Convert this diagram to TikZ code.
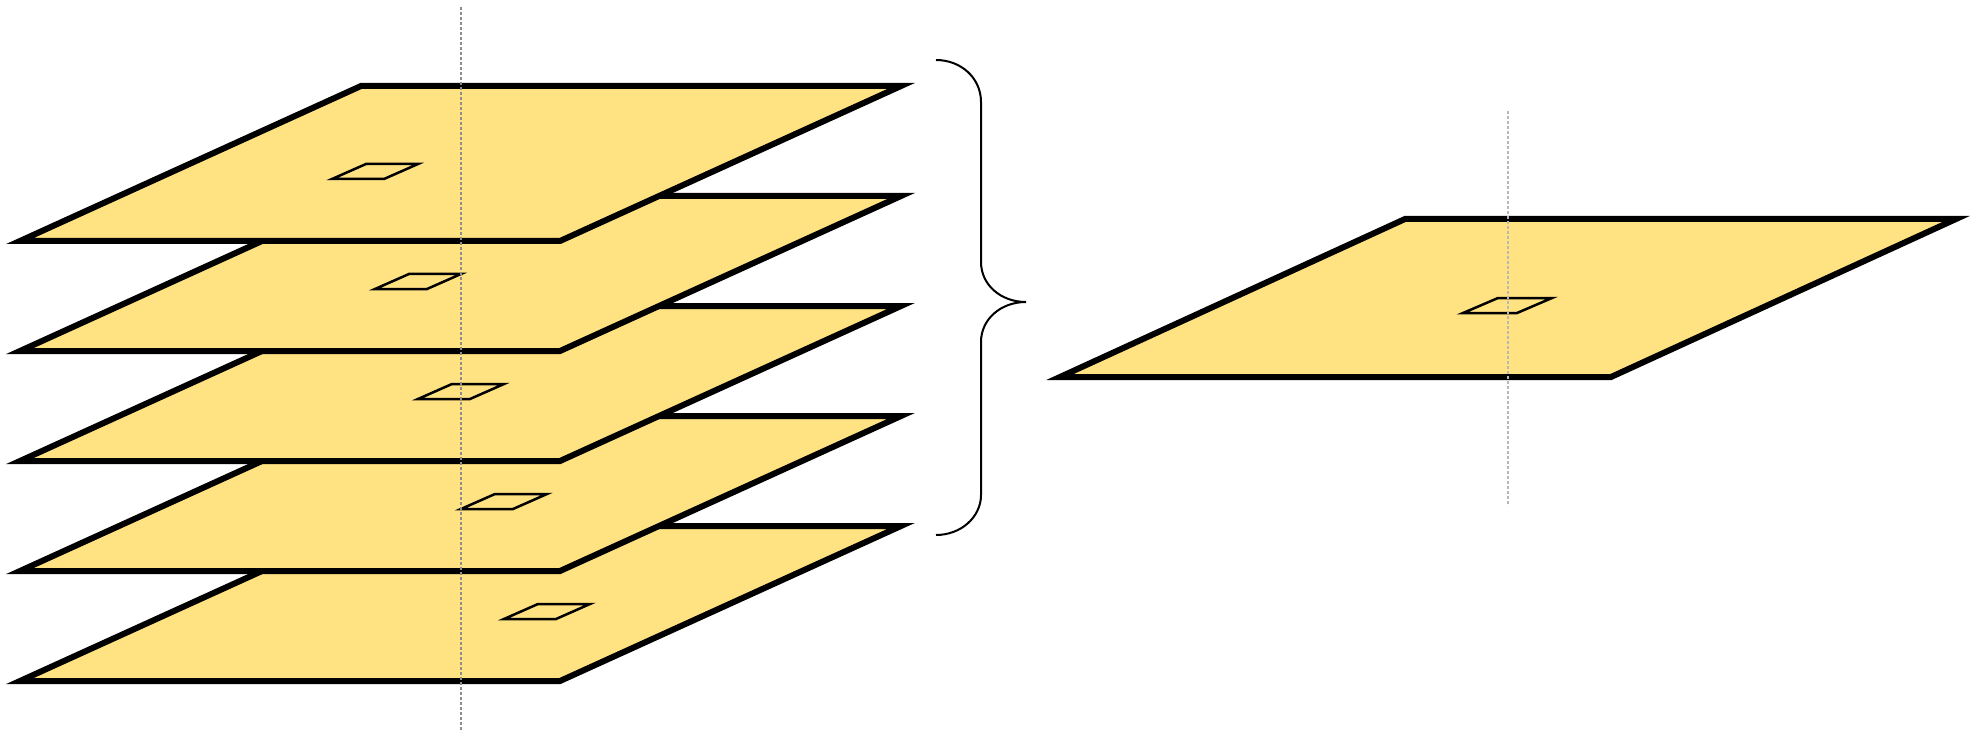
\documentclass[tikz,border=0pt]{standalone}
\definecolor{planefill}{RGB}{255,226,130}
\tikzset{
  plane/.style={draw=black, line width=6pt, fill=planefill, line join=miter},
  hole/.style={draw=black, line width=2.5pt, line join=miter},
  guide/.style={draw=black!45, line width=1.3pt, dash pattern=on 3pt off 2pt},
  guidelight/.style={draw=black!28, line width=1.3pt, dash pattern=on 3pt off 2pt},
  brace/.style={draw=black, line width=2pt},
}
\begin{document}
\begin{tikzpicture}[x=1pt,y=-1pt]
\useasboundingbox (0,0) rectangle (1982,730);
% left stack, bottom plane first
\foreach \k in {4,3,2,1,0} {
  \begin{scope}[shift={(0,110*\k)}]
    \draw[plane] (20,241) coordinate (bl\k) -- (560,241) coordinate (br\k)
      -- (901,86) coordinate (tr\k) -- (361,86) coordinate (tl\k) -- cycle;
    \pgfmathsetmacro\hx{332+43*\k}
    \draw[hole] (\hx,179) -- ({\hx+52},179) -- ({\hx+86},164) -- ({\hx+34},164) -- cycle;
  \end{scope}
}
% right plane
\draw[plane] (1060,377) coordinate (rbl) -- (1611,377) coordinate (rbr)
  -- (1956,219) coordinate (rtr) -- (1405,219) coordinate (rtl) -- cycle;
\draw[hole] (1463,313) -- (1517,313) -- (1552,298) -- (1498,298) -- cycle;
% guide lines
\coordinate (gtop) at (461,7);
\coordinate (gbot) at (461,730);
\draw[guide] (gtop) -- (gbot);
\coordinate (rgtop) at (1508,111);
\coordinate (rgbot) at (1508,506);
\draw[guidelight] (rgtop) -- (rgbot);
% brace
\coordinate (btop) at (936,60);
\coordinate (btip) at (1026,302);
\coordinate (bbot) at (936,535);
\draw[brace] (btop) .. controls (961,60) and (981,78) .. (981,102)
  -- (981,262) .. controls (981,285) and (1001,302) .. (btip)
  .. controls (1001,302) and (981,319) .. (981,342)
  -- (981,495) .. controls (981,517) and (961,535) .. (bbot);
\end{tikzpicture}
\end{document}
